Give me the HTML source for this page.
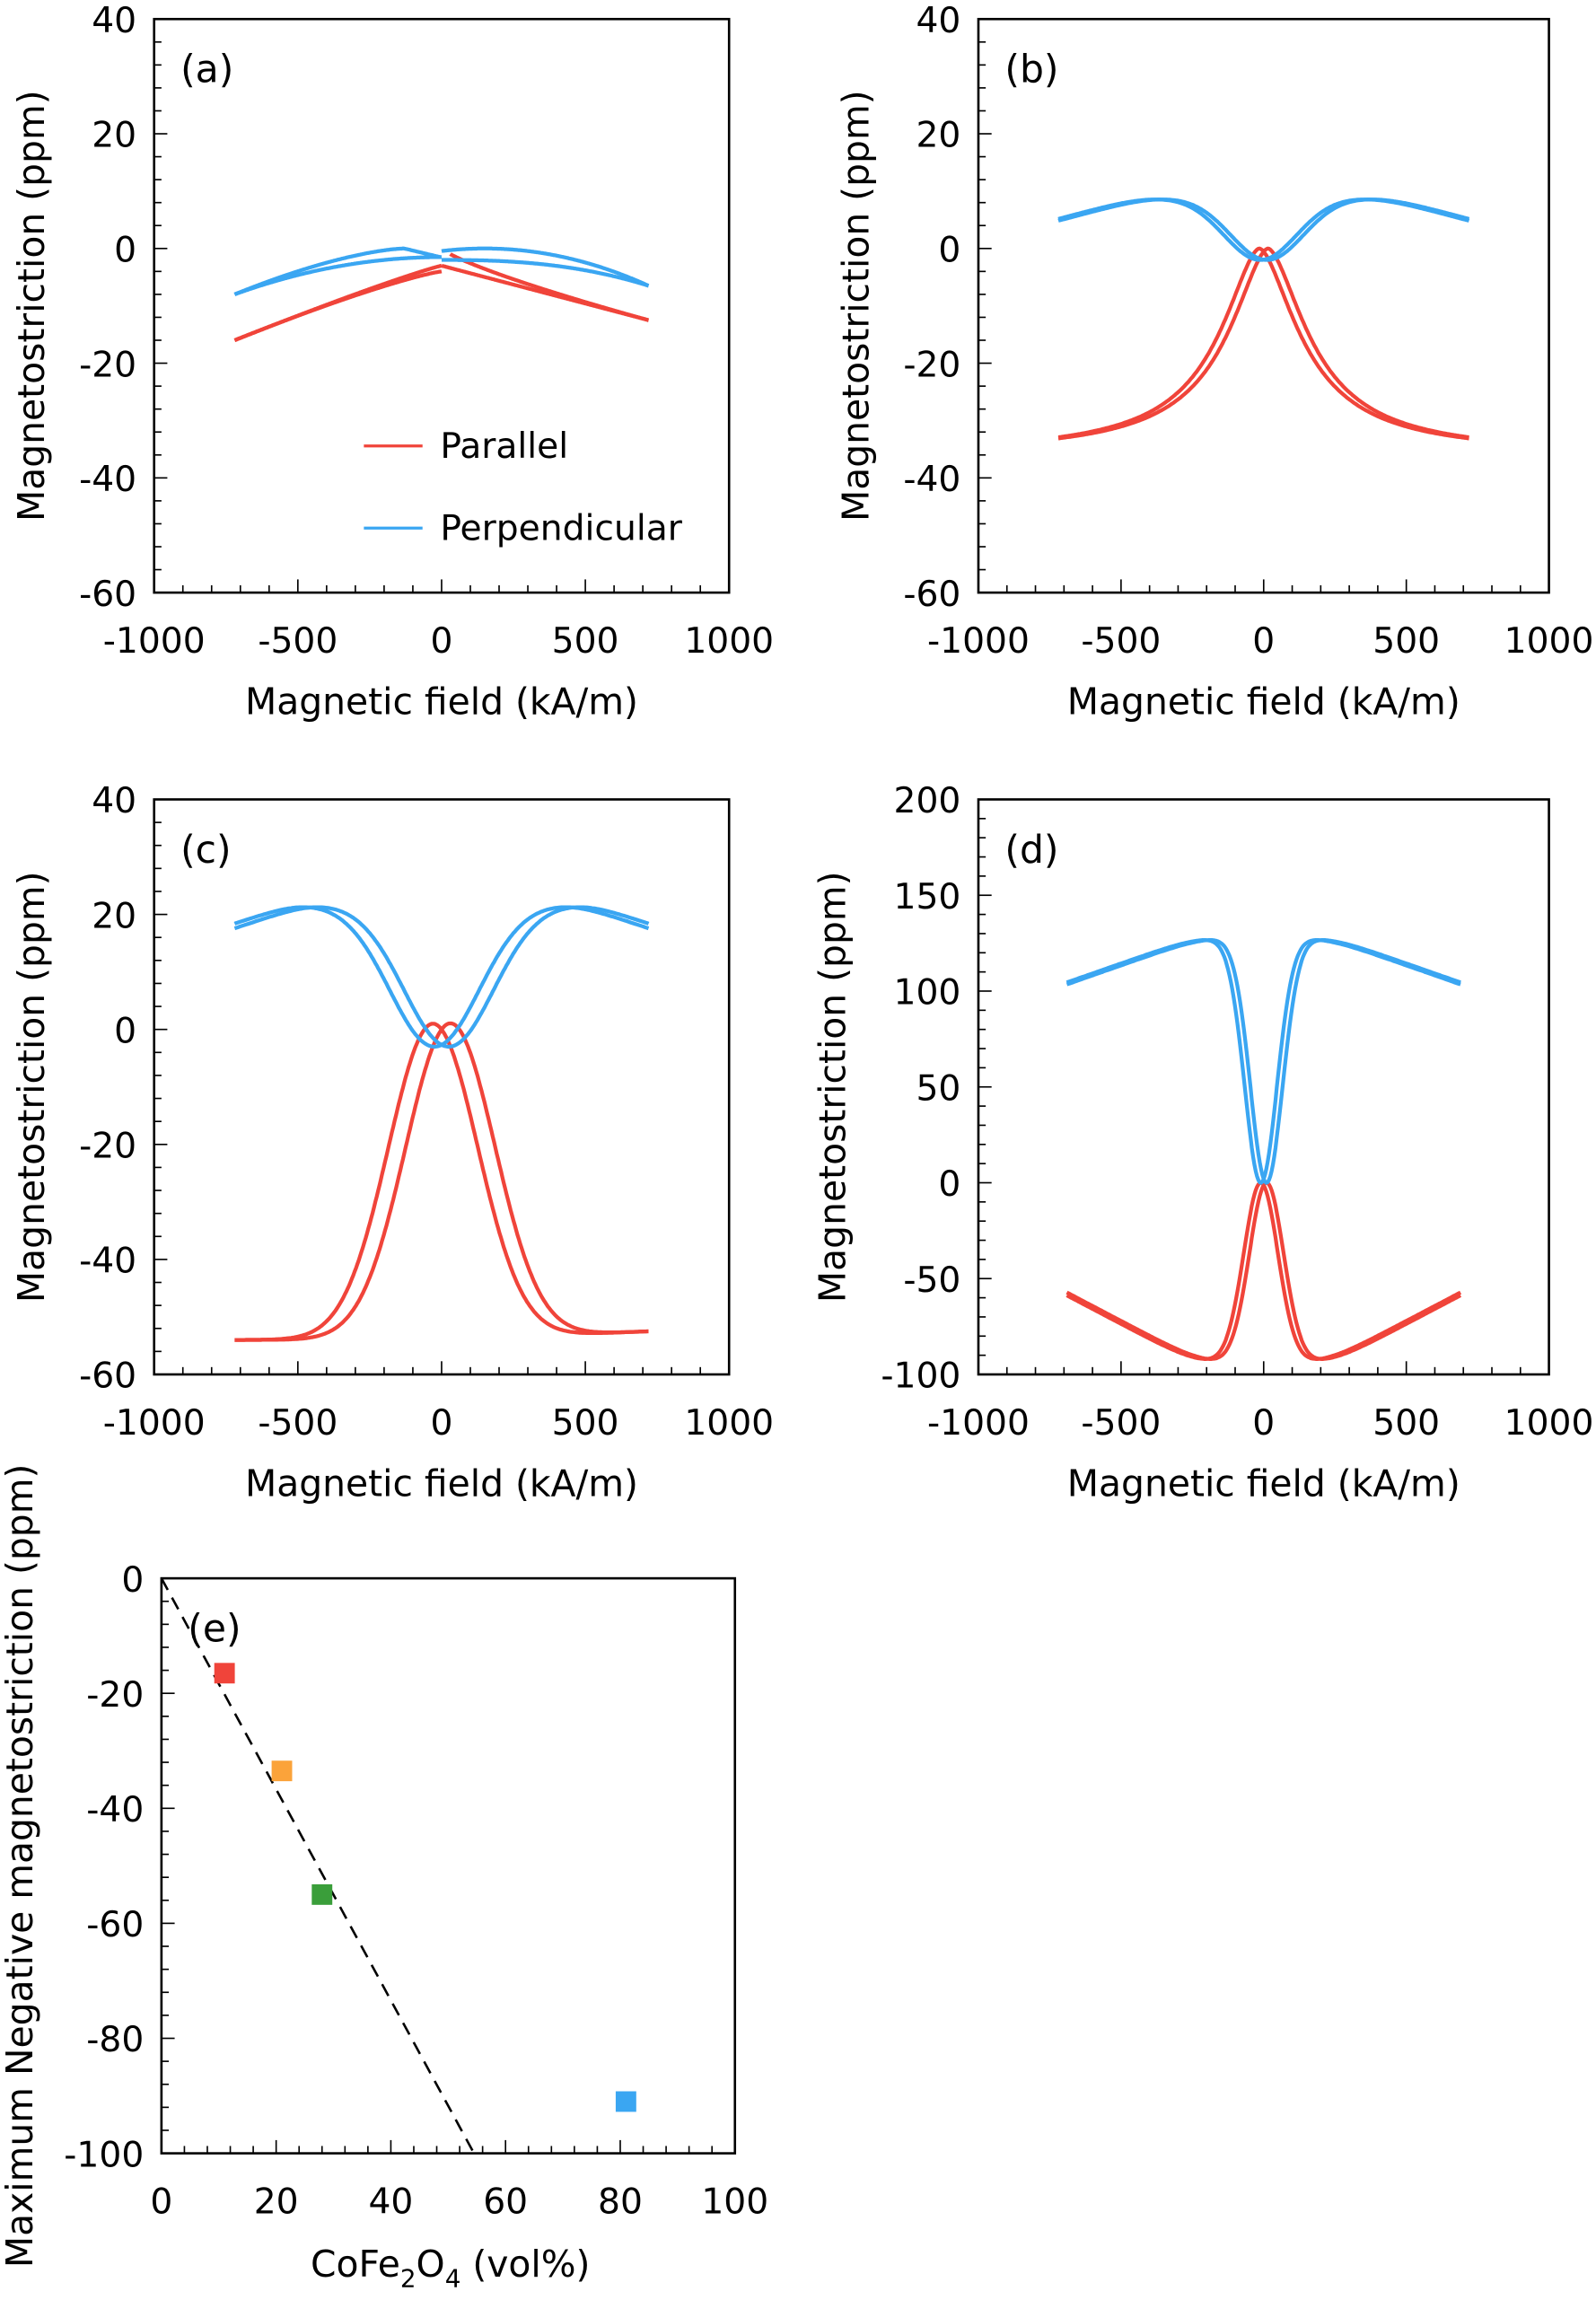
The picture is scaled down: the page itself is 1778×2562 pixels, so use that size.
<!DOCTYPE html>
<html><head><meta charset="utf-8">
<style>html,body{margin:0;padding:0;background:#fff}svg{display:block}</style></head>
<body>
<svg id="s" xmlns="http://www.w3.org/2000/svg" width="1778" height="2562" viewBox="0 0 1088 1568" font-family="DejaVu Sans, Liberation Sans, sans-serif">
</svg>
<script>
const S=document.getElementById('s');let out='';
const RED='#f0443a',BLUE='#3aa6f2';
const sp=(x,k)=>k*Math.log(1+Math.exp(x/k));
function panel(o){
 const {x0,x1,y0,y1,xmin,xmax,ymin,ymax,xmaj,xmin_,ymaj,ymin_}=o;
 const X=h=>x0+(h-xmin)/(xmax-xmin)*(x1-x0), Y=v=>y1-(v-ymin)/(ymax-ymin)*(y1-y0);
 out+=`<rect x="${x0}" y="${y0}" width="${x1-x0}" height="${y1-y0}" fill="none" stroke="#000" stroke-width="1.6"/>`;
 for(let v=ymin;v<=ymax+1e-9;v+=ymin_){const maj=Math.abs(((v-ymin)/ymaj)-Math.round((v-ymin)/ymaj))<1e-6;out+=`<line x1="${x0}" x2="${x0+(maj?9:5)}" y1="${Y(v)}" y2="${Y(v)}" stroke="#000" stroke-width="1"/>`;}
 for(let h=xmin;h<=xmax+1e-9;h+=xmin_){const maj=Math.abs(((h-xmin)/xmaj)-Math.round((h-xmin)/xmaj))<1e-6;out+=`<line y1="${y1}" y2="${y1-(maj?9:5)}" x1="${X(h)}" x2="${X(h)}" stroke="#000" stroke-width="1"/>`;}
 for(let v=ymin;v<=ymax+1e-9;v+=ymaj)out+=`<text x="${x0-12}" y="${Y(v)+9}" font-size="24" text-anchor="end">${Math.round(v)}</text>`;
 for(let h=xmin;h<=xmax+1e-9;h+=xmaj)out+=`<text x="${X(h)}" y="${y1+41}" font-size="24" text-anchor="middle">${Math.round(h)}</text>`;
 out+=`<text x="${x0+18}" y="${y0+43}" font-size="26">${o.lab}</text>`;
 out+=`<text x="${(x0+x1)/2}" y="${y1+83}" font-size="25" text-anchor="middle">${o.xl}</text>`;
 out+=`<text transform="translate(${o.ylx},${(y0+y1)/2}) rotate(-90)" font-size="25" text-anchor="middle">${o.yl}</text>`;
 return {X,Y};
}
function curve(P,f,a,b,col,w){let d='';for(let i=0;i<=300;i++){const h=a+(b-a)*i/300;d+=(i?'L':'M')+P.X(h).toFixed(1)+','+P.Y(f(h)).toFixed(1);}out+=`<path d="${d}" fill="none" stroke="${col}" stroke-width="${w||2.6}" stroke-linejoin="round"/>`;}
const base={xmin:-1000,xmax:1000,xmaj:500,xmin_:100,xl:'Magnetic field (kA/m)',yl:'Magnetostriction (ppm)'};
// (a)
let P=panel(Object.assign({},base,{x0:105,x1:497,y0:13,y1:404,ymin:-60,ymax:40,ymaj:20,ymin_:4,lab:'(a)',ylx:30}));
curve(P,h=>-3-13*Math.pow(Math.abs(h)/720,1.1),-720,0,RED);
curve(P,h=>-4-12*Math.pow(Math.abs(h)/720,1.2),-720,0,RED);
curve(P,h=>-3-9.5*Math.pow(h/720,1.0),0,720,RED);
curve(P,h=>-12.5*Math.pow(h/720,0.8),30,720,RED);
curve(P,h=>-1.5-6.5*Math.pow(Math.abs(h)/720,2),-720,0,BLUE);
curve(P,h=>h<-130?-8*Math.pow(Math.abs(h+130)/590,1.5):-1.5*(h+130)/125,-720,-5,BLUE);
curve(P,h=>-6.5*Math.pow(Math.abs(h-150)/570,2),0,720,BLUE);
curve(P,h=>-2-4.5*Math.pow(Math.abs(h)/720,2.5),0,720,BLUE);
out+=`<line x1="248" x2="288" y1="304" y2="304" stroke="${RED}" stroke-width="2"/><text x="300" y="312" font-size="24">Parallel</text>`;
out+=`<line x1="248" x2="288" y1="360" y2="360" stroke="${BLUE}" stroke-width="2"/><text x="300" y="368" font-size="24">Perpendicular</text>`;
// (b)
P=panel(Object.assign({},base,{x0:667,x1:1056,y0:13,y1:404,ymin:-60,ymax:40,ymaj:20,ymin_:4,lab:'(b)',ylx:592}));
[-15,15].forEach(s=>curve(P,h=>-36*(1-1/(1+Math.pow(Math.abs(h-s)/175,1.7))),-720,720,RED));
[-12,12].forEach(s=>curve(P,h=>{const a=Math.abs(h-s);return -2+11*(1-Math.exp(-Math.pow(a/180,2)))-4*sp(a-420,60)/300;},-720,720,BLUE));
// (c)
P=panel(Object.assign({},base,{x0:105,x1:497,y0:545,y1:937,ymin:-60,ymax:40,ymaj:20,ymin_:4,lab:'(c)',ylx:30}));
[-30,30].forEach(s=>curve(P,h=>-55*(1-Math.exp(-Math.pow((h-s)/220,2)))+1+1.5*Math.max(0,h)/720,-720,720,RED));
[-25,25].forEach(s=>curve(P,h=>{const a=Math.abs(h-s);return -3+25*(1-Math.exp(-Math.pow(a/220,2)))-4*sp(a-480,50)/240;},-720,720,BLUE));
// (d)
P=panel(Object.assign({},base,{x0:667,x1:1056,y0:545,y1:937,ymin:-100,ymax:200,ymaj:50,ymin_:10,lab:'(d)',ylx:576}));
[-10,10].forEach(s=>curve(P,h=>{const a=Math.abs(h-s);return -94*(1-Math.exp(-Math.pow(a/85,2)))+36*sp(a-230,50)/460;},-690,690,RED));
[-10,10].forEach(s=>curve(P,h=>{const a=Math.abs(h-s);return 128*(1-Math.exp(-Math.pow(a/80,2)))-24*sp(a-230,50)/460;},-690,690,BLUE));
// (e)
P=panel({x0:110,x1:501,y0:1076,y1:1468,xmin:0,xmax:100,xmaj:20,xmin_:4,ymin:-100,ymax:0,ymaj:20,ymin_:4,lab:'(e)',xl:'',yl:'Maximum Negative magnetostriction (ppm)',ylx:22});
out+=`<line x1="${P.X(0)}" y1="${P.Y(0)}" x2="${P.X(54.5)}" y2="${P.Y(-100)}" stroke="#000" stroke-width="1.6" stroke-dasharray="9,6"/>`;
[[11,-16.5,RED],[21,-33.5,'#fba33a'],[28,-55,'#3a9e3a'],[81,-91,BLUE]].forEach(p=>out+=`<rect x="${P.X(p[0])-7}" y="${P.Y(p[1])-7}" width="14" height="14" fill="${p[2]}"/>`);
out+=`<text x="307" y="1552" font-size="25" text-anchor="middle">CoFe<tspan font-size="17" dy="7">2</tspan><tspan dy="-7">O</tspan><tspan font-size="17" dy="7">4</tspan><tspan dy="-7"> (vol%)</tspan></text>`;
S.innerHTML=out;
</script>
</body></html>
